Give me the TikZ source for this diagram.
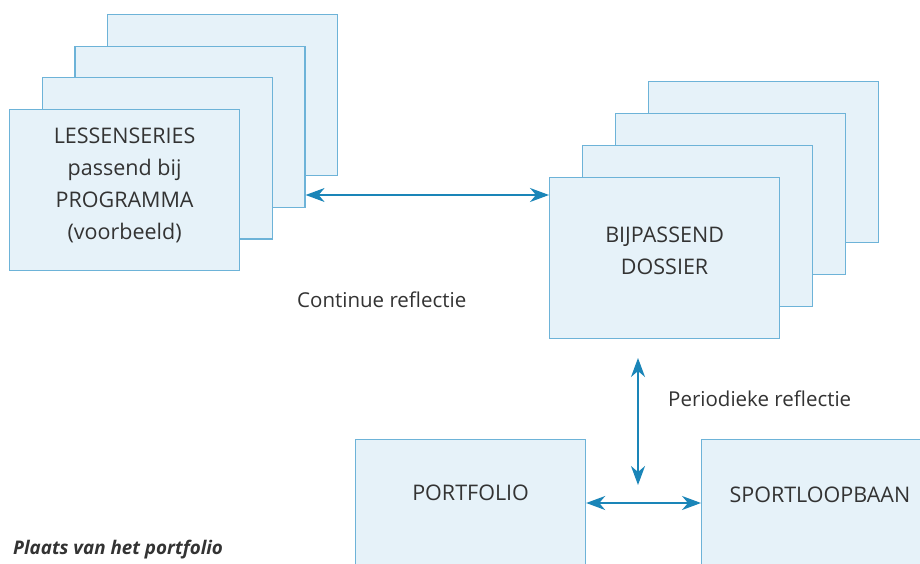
\documentclass[tikz,border=0pt]{standalone}
\usepackage{fontspec}
\setmainfont{Open Sans}
\usetikzlibrary{arrows.meta}
\definecolor{boxfill}{HTML}{E6F2F9}
\definecolor{boxline}{HTML}{6DB3D8}
\definecolor{arrowblue}{HTML}{1A85B8}
\definecolor{inkgrey}{HTML}{333333}
\tikzset{
  card/.style={draw=boxline, fill=boxfill, line width=1.2pt, minimum width=230pt,
    minimum height=161pt, inner sep=0pt, anchor=north west},
  cardtext/.style={text=inkgrey, font=\fontsize{21.5}{32}\selectfont, align=center},
  reflect/.style={draw=arrowblue, line width=1.4pt,
    {Stealth[length=19pt,width=14pt,inset=6pt]}-{Stealth[length=19pt,width=14pt,inset=6pt]}},
  remark/.style={text=inkgrey, font=\fontsize{20.5}{24}\selectfont, anchor=west, inner sep=0pt},
}
\begin{document}
\begin{tikzpicture}[x=1pt,y=-1pt]
  \clip (0,0) rectangle (920,564);
  \fill[white] (0,0) rectangle (920,564);

  % lessenseries stack
  \foreach \k in {3,2,1}
    \node[card] (les\k) at (9+32.7*\k, 109-31.7*\k) {};
  \node[card] (les0) at (9,109) {};
  \node[cardtext] (lestxt) at ([yshift=-76pt]les0.north)
    {LESSENSERIES\\passend bij\\PROGRAMMA\\(voorbeeld)};

  % dossier stack
  \foreach \k in {3,2,1}
    \node[card] (dos\k) at (549+33*\k, 177-32*\k) {};
  \node[card] (dos0) at (549,177) {};
  \node[cardtext] (dostxt) at ([yshift=-74pt]dos0.north) {BIJPASSEND\\DOSSIER};

  % portfolio and sportloopbaan
  \node[card] (port) at (355,439) {};
  \node[cardtext] (porttxt) at ([yshift=-54pt]port.north) {PORTFOLIO};
  \node[card] (sport) at (701,439) {};
  \node[cardtext, anchor=west] (sporttxt) at ([xshift=25pt,yshift=-56pt]sport.north west)
    {SPORTLOOPBAAN};

  % reflectie
  \coordinate (hlev) at (0,195);
  \draw[reflect] (les2.east |- hlev) -- (dos0.west |- hlev);
  \node[remark] (cont) at (297,300) {Continue reflectie};

  \coordinate (vtop) at (638,358);
  \coordinate (vbot) at (638,485);
  \draw[reflect] (vtop) -- (vbot);
  \node[remark] (peri) at (668,399) {Periodieke reflectie};

  \coordinate (blev) at (0,503);
  \draw[reflect] (port.east |- blev) -- (sport.west |- blev);

  \node[anchor=base west, inner sep=0pt, text=inkgrey,
    font=\fontsize{18.8}{20}\selectfont\bfseries\itshape] (capt) at (13,554)
    {Plaats van het portfolio};
\end{tikzpicture}
\end{document}
